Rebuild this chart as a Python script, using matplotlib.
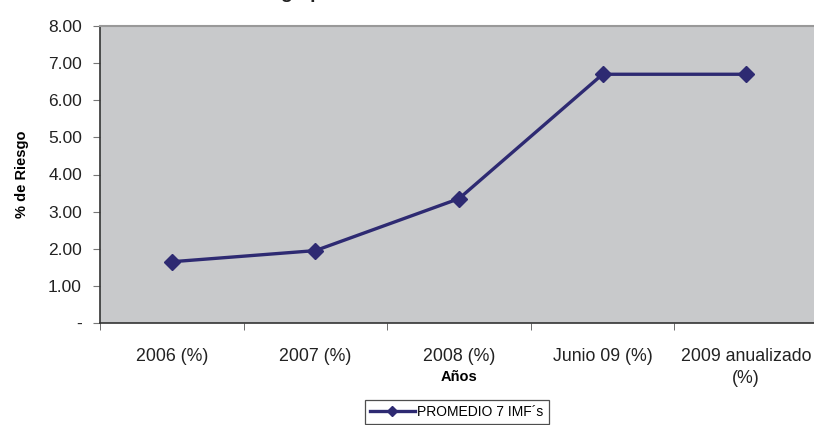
import matplotlib.pyplot as plt
import numpy as np

plt.rcParams['font.family'] = ['Liberation Sans', 'DejaVu Sans']

categorias = ["2006 (%)", "2007 (%)", "2008 (%)", "Junio 09 (%)", "2009 anualizado\n(%)"]
riesgo = [1.65, 1.95, 3.35, 6.70, 6.70]
yticks = [0, 1, 2, 3, 4, 5, 6, 7, 8]
ytick_labels = ["-", "1.00", "2.00", "3.00", "4.00", "5.00", "6.00", "7.00", "8.00"]

fig = plt.figure(figsize=(8.14, 4.25), dpi=100)
ax = fig.add_axes([100/814, 1-323/425, 718/814, 297/425])
ax.set_facecolor("#c8c9cb")

x = np.arange(len(categorias))
ax.plot(x, riesgo, color="#2e2a72", lw=2.4, marker="D", ms=8.5,
        label="PROMEDIO 7 IMF´s", solid_joinstyle="miter")

ax.set_xlim(-0.5, len(categorias) - 0.5)
ax.set_ylim(0, 8)
ax.set_yticks(yticks)
ax.set_yticklabels(ytick_labels)
ax.set_xticks(x)
ax.set_xticklabels(categorias, linespacing=1.35)
ax.set_xticks(np.arange(len(categorias)) - 0.5, minor=True)
ax.tick_params(axis="x", which="major", length=0, pad=18, labelsize=12.8, colors="#222222")
ax.tick_params(axis="x", which="minor", length=5, color="#555555")
ax.tick_params(axis="y", length=5, color="#777777", labelsize=12.5, labelcolor="#222222", pad=8)

for s in ["left", "bottom"]:
    ax.spines[s].set_color("#333333")
    ax.spines[s].set_linewidth(1.2)
ax.spines["top"].set_color("#999999")
ax.spines["top"].set_linewidth(1.5)
ax.spines["right"].set_visible(False)

ax.set_xlabel("Años", fontweight="bold", fontsize=10.5)
ax.xaxis.set_label_coords((459 - 100) / 718, (323 - 377) / 297)
ax.xaxis.label.set_va("center")
ax.set_ylabel("% de Riesgo", fontweight="bold", fontsize=10.5, labelpad=14)

fig.text(240/814, 1 + 2/425, "Riesgo promedio", fontsize=14, fontweight="bold",
         ha="left", va="baseline", color="#222222")

leg = ax.legend(loc="upper center", bbox_to_anchor=((457 - 100) / 718, (323 - 400) / 297),
                frameon=True, fancybox=False, edgecolor="#222222", fontsize=10,
                markerscale=0.55, handlelength=3.2, handletextpad=0.2, borderpad=0.35,
                borderaxespad=0)
leg.get_frame().set_linewidth(0.9)

fig.savefig("out.png", dpi=100)
